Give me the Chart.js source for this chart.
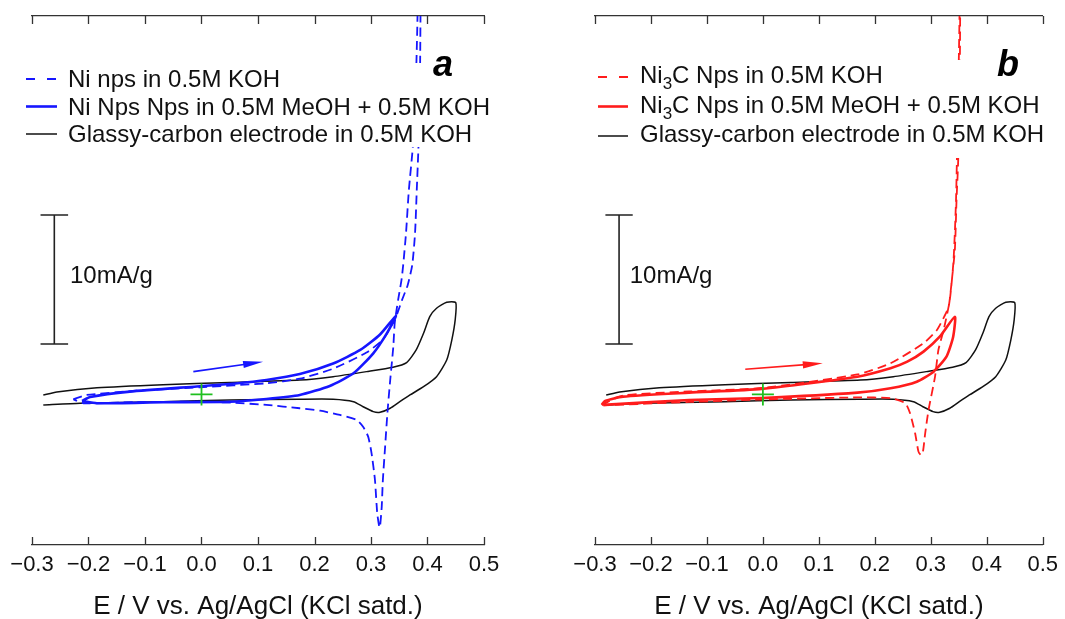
<!DOCTYPE html>
<html>
<head>
<meta charset="utf-8">
<script src="https://cdn.jsdelivr.net/npm/chart.js@4.4.1/dist/chart.umd.min.js"></script>
<style>
  body { margin: 0; background: #fff; }
  #wrap { position: relative; width: 1065px; height: 619px; }
  .pane { position: absolute; top: 0; height: 619px; }
</style>
</head>
<body>
<div id="wrap">
  <div class="pane" style="left:0;width:532px"><canvas id="chartA"></canvas></div>
  <div class="pane" style="left:532px;width:533px"><canvas id="chartB"></canvas></div>
</div>
<script>
// potential (V vs Ag/AgCl) and current (mA/g)

// glassy-carbon electrode, same curve in both panels
const gcE = [-0.280, -0.256, -0.185, -0.068, 0.050, 0.174, 0.233, 0.292, 0.339, 0.363, 0.380, 0.393, 0.404, 0.416, 0.434, 0.450,
  0.449, 0.443, 0.434, 0.416, 0.393, 0.369, 0.351, 0.334, 0.316, 0.304, 0.286, 0.269, 0.233, 0.174, 0.050, -0.068, -0.215, -0.280];
const gcI = [-0.04, 0.20, 0.52, 0.76, 0.93, 1.12, 1.38, 1.77, 2.11, 2.47, 3.45, 4.74, 6.03, 6.68, 7.15, 7.12,
  5.78, 4.22, 2.67, 1.38, 0.60, -0.04, -0.56, -1.07, -1.38, -1.33, -0.95, -0.56, -0.37, -0.37, -0.43, -0.56, -0.68, -0.81];

// Ni nps in KOH (dashed blue)
const niKohE = [-0.227, -0.203, -0.121, -0.003, 0.115, 0.174, 0.233, 0.292, 0.322, 0.344, 0.355, 0.365, 0.373, 0.378, 0.381, 0.384, 0.386, 0.387, 0.3876, 0.3885,
  0.383, 0.3823, 0.3805, 0.378, 0.374, 0.367, 0.362, 0.357, 0.354, 0.348, 0.342, 0.3395, 0.334, 0.329, 0.325, 0.321, 0.319, 0.316, 0.3147,
  0.311, 0.307, 0.301, 0.295, 0.286, 0.275, 0.245, 0.210, 0.174, 0.115, 0.056, -0.003, -0.121, -0.209, -0.227];
const niKohI = [-0.37, -0.04, 0.27, 0.56, 0.87, 1.22, 2.00, 3.25, 4.30, 6.00, 7.33, 8.49, 10.04, 12.52, 15.85, 19.19, 22.83, 25.93, 29.34, 34.5,
  34.5, 29.34, 25.93, 22.83, 19.19, 15.85, 12.52, 10.04, 8.88, 7.33, 5.54, 3.71, 1.12, -1.46, -4.05, -6.63, -8.70, -10.25, -10.29,
  -9.21, -6.63, -4.56, -3.27, -2.50, -1.98, -1.59, -1.26, -1.07, -0.81, -0.64, -0.56, -0.60, -0.68, -0.37];

// Ni nps in MeOH + KOH (solid blue)
const niMeohE = [-0.2115, -0.197, -0.127, -0.0085, 0.060, 0.115, 0.174, 0.233, 0.281, 0.316, 0.344,
  0.328, 0.304, 0.269, 0.227, 0.174, 0.115, 0.050, -0.068, -0.185, -0.2115];
const niMeohI = [-0.50, -0.19, 0.22, 0.62, 0.85, 1.12, 1.58, 2.40, 3.45, 4.65, 6.09,
  4.74, 3.19, 1.64, 0.66, -0.04, -0.35, -0.56, -0.60, -0.68, -0.50];

// Ni3C nps in KOH (dashed red)
const ni3cKohE = [-0.288, -0.250, -0.132, -0.002, 0.169, 0.228, 0.287, 0.311, 0.324, 0.332, 0.337, 0.343, 0.346, 0.349, 0.352, 0.3525, 0.353,
  0.351, 0.3513, 0.3487, 0.3451, 0.3407, 0.334, 0.323, 0.3136, 0.3076, 0.296, 0.290, 0.286, 0.2823, 0.278, 0.272, 0.263, 0.2545,
  0.228, 0.169, -0.002, -0.132, -0.285];
const ni3cKohI = [-0.81, -0.08, 0.23, 0.50, 1.55, 2.42, 3.97, 5.00, 6.03, 6.81, 8.62, 11.20, 15.08, 18.18, 25.93, 29.34, 34.5,
  34.5, 29.34, 22.8, 15.08, 10.43, 7.33, 5.00, 3.45, 1.38, -1.20, -3.01, -4.43, -4.69, -4.43, -3.01, -1.46, -0.68,
  -0.29, -0.23, -0.39, -0.58, -0.85];

// Ni3C nps in MeOH + KOH (solid red)
const ni3cMeohE = [-0.288, -0.282, -0.250, -0.132, -0.002, 0.169, 0.228, 0.258, 0.287, 0.316, 0.343,
  0.340, 0.328, 0.305, 0.275, 0.228, 0.169, -0.002, -0.132, -0.285];
const ni3cMeohI = [-0.81, -0.50, -0.17, 0.14, 0.43, 1.38, 2.03, 2.54, 3.32, 4.48, 6.03,
  4.48, 2.93, 1.77, 0.99, 0.48, 0.14, -0.27, -0.43, -0.81];

// scan-direction arrows [start, end]
const arrowAE = [-0.0145, 0.109], arrowAI = [1.77, 2.54];
const arrowBE = [-0.0315, 0.107], arrowBI = [1.95, 2.42];

// 10 mA/g scale bars
const barAE = -0.2605, barBE = -0.257, barI = [3.91, 13.91];

const legendA = ['Ni nps in 0.5M KOH', 'Ni Nps Nps in 0.5M MeOH + 0.5M KOH', 'Glassy-carbon electrode in 0.5M KOH'];
const legendB = ['Ni_3_C Nps in 0.5M KOH', 'Ni_3_C Nps in 0.5M MeOH + 0.5M KOH', 'Glassy-carbon electrode in 0.5M KOH'];
const xTicks = [-0.3, -0.2, -0.1, 0.0, 0.1, 0.2, 0.3, 0.4, 0.5];
const xTitle = 'E / V vs. Ag/AgCl (KCl satd.)';
const barText = '10mA/g';

const FONT = '"Liberation Sans", Arial, sans-serif';
const BLUE = '#1616ff', RED = '#ff1c1c', BLACK = '#111', GREEN = '#1fbf1f';

const pts = (E, I) => E.map((e, i) => ({ x: e, y: I[i] }));

const curve = (E, I, color, width, dash) => ({
  data: pts(E, I), showLine: true, borderColor: color, borderWidth: width,
  borderDash: dash || [], pointRadius: 0, tension: 0.2, fill: false,
});

const scaleBar = (xe) => {
  const d = 0.0244;
  return {
    data: pts([xe - d, xe + d, xe, xe, xe - d, xe + d], [barI[0], barI[0], barI[0], barI[1], barI[1], barI[1]]),
    showLine: true, borderColor: '#222', borderWidth: 1.6, pointRadius: 0, tension: 0,
  };
};

const origin = {
  data: [{ x: 0, y: 0 }], showLine: false, pointStyle: 'cross', pointRadius: 11,
  borderColor: GREEN, borderWidth: 1.8,
};

// ticks inside the frame, arrow, legend, panel letter, scale label
const decor = {
  id: 'decor',
  afterDraw(chart, args, o) {
    const { ctx, chartArea: a, scales: { x, y } } = chart;
    ctx.save();

    ctx.strokeStyle = '#333';
    ctx.lineWidth = 1.3;
    xTicks.forEach((v) => {
      const px = Math.round(x.getPixelForValue(v)) + 0.5;
      ctx.beginPath();
      ctx.moveTo(px, a.bottom); ctx.lineTo(px, a.bottom - 8);
      ctx.moveTo(px, a.top); ctx.lineTo(px, a.top + 8);
      ctx.stroke();
    });

    // arrow
    const x0 = x.getPixelForValue(o.arrow.E[0]), y0 = y.getPixelForValue(o.arrow.I[0]);
    const x1 = x.getPixelForValue(o.arrow.E[1]), y1 = y.getPixelForValue(o.arrow.I[1]);
    const ang = Math.atan2(y1 - y0, x1 - x0);
    ctx.strokeStyle = o.color; ctx.fillStyle = o.color; ctx.lineWidth = 1.6;
    ctx.beginPath();
    ctx.moveTo(x0, y0);
    ctx.lineTo(x1 - 14 * Math.cos(ang), y1 - 14 * Math.sin(ang));
    ctx.stroke();
    ctx.beginPath();
    ctx.moveTo(x1, y1);
    ctx.lineTo(x1 - 20 * Math.cos(ang) + 3.6 * Math.sin(ang), y1 - 20 * Math.sin(ang) - 3.6 * Math.cos(ang));
    ctx.lineTo(x1 - 20 * Math.cos(ang) - 3.6 * Math.sin(ang), y1 - 20 * Math.sin(ang) + 3.6 * Math.cos(ang));
    ctx.closePath();
    ctx.fill();

    // legend
    const L = o.legend;
    ctx.fillStyle = '#fff';
    ctx.fillRect(a.left + L.box[0], a.top + L.box[1], L.box[2], L.box[3]);
    L.rows.forEach((r, k) => {
      const ry = a.top + L.rowY[k];
      ctx.beginPath();
      ctx.setLineDash(r.dash);
      ctx.strokeStyle = r.color;
      ctx.lineWidth = r.width;
      ctx.moveTo(a.left + L.lineX[0], ry);
      ctx.lineTo(a.left + L.lineX[1], ry);
      ctx.stroke();
      ctx.setLineDash([]);
      ctx.fillStyle = '#111';
      ctx.textBaseline = 'alphabetic';
      let tx = a.left + L.textX;
      r.text.split('_').forEach((seg, j) => {
        ctx.font = (j % 2 ? '17px ' : '24px ') + FONT;
        ctx.fillText(seg, tx, ry + L.base + (j % 2 ? 6 : 0));
        tx += ctx.measureText(seg).width;
      });
    });

    // panel letter
    ctx.font = 'italic bold 36px ' + FONT;
    ctx.fillStyle = '#000';
    ctx.fillText(o.letter, a.left + o.letterAt[0], a.top + o.letterAt[1]);

    // scale bar label
    ctx.font = '24px ' + FONT;
    ctx.fillStyle = '#111';
    ctx.fillText(barText, x.getPixelForValue(o.barLabel[0]), y.getPixelForValue(o.barLabel[1]));

    ctx.restore();
  },
};

const makePanel = (id, datasets, padL, padR, deco) => new Chart(document.getElementById(id), {
  type: 'scatter',
  data: { datasets },
  options: {
    responsive: true,
    maintainAspectRatio: false,
    animation: false,
    events: [],
    layout: { padding: { left: padL, right: padR, top: 0, bottom: 0 } },
    plugins: { legend: { display: false }, tooltip: { enabled: false }, decor: deco },
    scales: {
      x: {
        type: 'linear', position: 'bottom', min: -0.3, max: 0.5,
        afterFit: (s) => { s.height = 74; },
        afterBuildTicks: (s) => { s.ticks = xTicks.map((v) => ({ value: v })); },
        grid: { display: false, drawTicks: false },
        border: { display: true, color: '#333', width: 1.3 },
        ticks: {
          padding: 7, color: '#111', maxRotation: 0, autoSkip: false,
          font: { family: FONT, size: 22 },
          callback: (v) => v.toFixed(1).replace('-', '\u2212'),
        },
        title: {
          display: true, text: xTitle, color: '#111',
          font: { family: FONT, size: 26, lineHeight: 1 }, padding: { top: 0, bottom: -1 },
        },
      },
      x2: {
        type: 'linear', position: 'top', min: -0.3, max: 0.5,
        afterFit: (s) => { s.height = 16; },
        grid: { display: false, drawTicks: false },
        border: { display: true, color: '#333', width: 1.3 },
        ticks: { display: false },
      },
      y: { display: false, min: -11.67, max: 29.34 },
    },
  },
  plugins: [decor],
});

makePanel('chartA', [
  origin,
  curve(niMeohE, niMeohI, BLUE, 2.6),
  curve(niKohE, niKohI, BLUE, 1.8, [9, 5]),
  curve(gcE, gcI, BLACK, 1.5),
  scaleBar(barAE),
], 32, 48, {
  color: BLUE,
  arrow: { E: arrowAE, I: arrowAI },
  letter: 'a', letterAt: [401, 60],
  barLabel: [-0.2327, 8.64],
  legend: {
    box: [-12, 47, 478, 84], lineX: [-6, 25], textX: 36, rowY: [63, 90.5, 118], base: 8,
    rows: [
      { text: legendA[0], color: BLUE, width: 1.8, dash: [9, 12] },
      { text: legendA[1], color: BLUE, width: 2.6, dash: [] },
      { text: legendA[2], color: BLACK, width: 1.5, dash: [] },
    ],
  },
});

makePanel('chartB', [
  origin,
  curve(ni3cMeohE, ni3cMeohI, RED, 2.6),
  curve(ni3cKohE, ni3cKohI, RED, 1.8, [9, 5]),
  curve(gcE, gcI, BLACK, 1.5),
  scaleBar(barBE),
], 63, 18, {
  color: RED,
  arrow: { E: arrowBE, I: arrowBI },
  letter: 'b', letterAt: [402, 60],
  barLabel: [-0.238, 8.64],
  legend: {
    box: [-10, 44, 470, 98], lineX: [3, 33], textX: 45, rowY: [61, 90.5, 120], base: 6,
    rows: [
      { text: legendB[0], color: RED, width: 1.8, dash: [9, 12] },
      { text: legendB[1], color: RED, width: 2.6, dash: [] },
      { text: legendB[2], color: BLACK, width: 1.5, dash: [] },
    ],
  },
});
</script>
</body>
</html>
